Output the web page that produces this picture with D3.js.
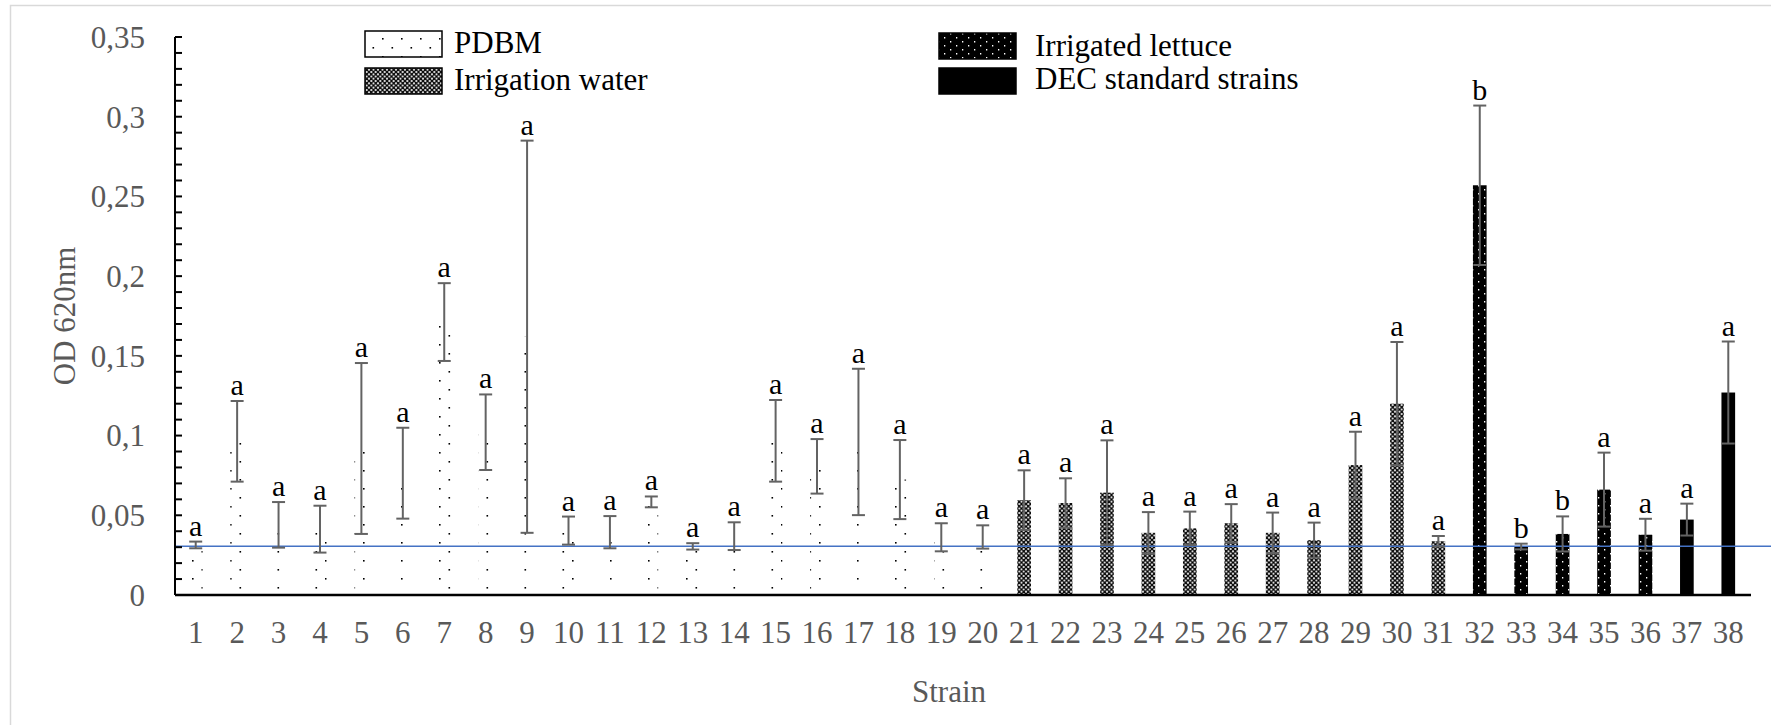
<!DOCTYPE html>
<html><head><meta charset="utf-8">
<script src="https://cdn.jsdelivr.net/npm/d3@7/dist/d3.min.js"></script>
<style>body{margin:0;background:#fff}svg{display:block}text{font-family:"Liberation Serif","Times New Roman",serif}</style>
</head><body>
<script>
// ---- data ----
const strains = d3.range(1, 39).map(String);
const groups = ["PDBM","PDBM","PDBM","PDBM","PDBM","PDBM","PDBM","PDBM","PDBM","PDBM",
  "PDBM","PDBM","PDBM","PDBM","PDBM","PDBM","PDBM","PDBM","PDBM","PDBM",
  "Irrigation water","Irrigation water","Irrigation water","Irrigation water","Irrigation water","Irrigation water",
  "Irrigation water","Irrigation water","Irrigation water","Irrigation water","Irrigation water",
  "Irrigated lettuce","Irrigated lettuce","Irrigated lettuce","Irrigated lettuce","Irrigated lettuce",
  "DEC standard strains","DEC standard strains"];
const means = [0.0314,0.0964,0.0440,0.0413,0.0919,0.0764,0.1712,0.1021,0.1620,0.0404,
  0.0394,0.0584,0.0305,0.0369,0.0967,0.0807,0.0960,0.0724,0.0362,0.0364,
  0.0595,0.0577,0.0642,0.0390,0.0418,0.0450,0.0390,0.0344,0.0815,0.1200,0.0337,
  0.2570,0.0304,0.0383,0.0661,0.0378,0.0473,0.1270];
const sds = [0.0021,0.0253,0.0143,0.0147,0.0536,0.0285,0.0244,0.0237,0.1230,0.0088,
  0.0101,0.0034,0.0020,0.0087,0.0256,0.0171,0.0459,0.0248,0.0088,0.0073,
  0.0187,0.0155,0.0328,0.0130,0.0105,0.0120,0.0127,0.0110,0.0209,0.0387,0.0033,
  0.0500,0.0018,0.0110,0.0232,0.0100,0.0100,0.0320];
const letters = ["a","a","a","a","a","a","a","a","a","a","a","a","a","a","a","a","a","a","a","a",
  "a","a","a","a","a","a","a","a","a","a","a","b","b","b","a","a","a","a"];
const legendItems = ["PDBM","Irrigation water","Irrigated lettuce","DEC standard strains"];
const yTicks = [0,0.05,0.1,0.15,0.2,0.25,0.3,0.35];
const yTickLabels = ["0","0,05","0,1","0,15","0,2","0,25","0,3","0,35"];
const threshold = 0.0305;

const W = 1771, H = 725;
const FONT = '"Liberation Serif","Times New Roman",serif';
const svg = d3.select("body").append("svg").attr("width", W).attr("height", H);
const defs = svg.append("defs");

// patterns
const pd = defs.append("pattern").attr("id","pPDBM").attr("patternUnits","userSpaceOnUse")
  .attr("width",19).attr("height",18);
pd.append("rect").attr("width",19).attr("height",18).attr("fill","#fff");
pd.append("rect").attr("x",2).attr("y",2).attr("width",1.6).attr("height",1.6).attr("fill","#000");
pd.append("rect").attr("x",11.5).attr("y",11).attr("width",1.6).attr("height",1.6).attr("fill","#000");

const pw = defs.append("pattern").attr("id","pWater").attr("patternUnits","userSpaceOnUse")
  .attr("width",4.5).attr("height",4.5);
pw.append("rect").attr("width",4.5).attr("height",4.5).attr("fill","#fff");
pw.append("path").attr("d","M0,0L4.5,4.5M4.5,0L0,4.5").attr("stroke","#000").attr("stroke-width",1.3);
pw.append("circle").attr("cx",2.25).attr("cy",2.25).attr("r",0.9).attr("fill","#000");

const pl = defs.append("pattern").attr("id","pLettuce").attr("patternUnits","userSpaceOnUse")
  .attr("width",12).attr("height",8);
pl.append("rect").attr("width",12).attr("height",8).attr("fill","#000");
pl.append("rect").attr("x",2).attr("y",1).attr("width",1.3).attr("height",1.5).attr("fill","#fff");
pl.append("rect").attr("x",8).attr("y",5).attr("width",1.3).attr("height",1.5).attr("fill","#fff");

const fillOf = {"PDBM":"url(#pPDBM)","Irrigation water":"url(#pWater)","Irrigated lettuce":"url(#pLettuce)","DEC standard strains":"#000"};

// frame
svg.append("rect").attr("x",10.5).attr("y",5.5).attr("width",W).attr("height",H)
  .attr("fill","none").attr("stroke","#d9d9d9").attr("stroke-width",1.5);

const x0 = 175, x1 = 1749, yBottom = 595, yTop = 37;
const x = d3.scaleBand().domain(strains).range([x0, x1]).paddingInner(0.67).paddingOuter(0.335);
const y = d3.scaleLinear().domain([0, 0.35]).range([yBottom, yTop]);

const data = strains.map((s,i)=>({s, g:groups[i], m:means[i], sd:sds[i], l:letters[i]}));

// bars
svg.append("g").selectAll("rect").data(data).join("rect")
  .attr("x", d=>x(d.s)).attr("width", x.bandwidth())
  .attr("y", d=>y(d.m)).attr("height", d=>y(0)-y(d.m))
  .attr("fill", d=>fillOf[d.g]);

// threshold line
svg.append("line").attr("x1",x0).attr("x2",W).attr("y1",y(threshold)).attr("y2",y(threshold))
  .attr("stroke","#4472C4").attr("stroke-width",1.5);

// error bars
const eb = svg.append("g").attr("stroke","#636363").attr("stroke-width",2).attr("fill","none");
data.forEach(d=>{
  const cx = x(d.s) + x.bandwidth()/2;
  const yt = y(d.m + d.sd), yb = y(d.m - d.sd);
  eb.append("line").attr("x1",cx).attr("x2",cx).attr("y1",yt).attr("y2",yb);
  eb.append("line").attr("x1",cx-6.5).attr("x2",cx+6.5).attr("y1",yt).attr("y2",yt);
  eb.append("line").attr("x1",cx-6.5).attr("x2",cx+6.5).attr("y1",yb).attr("y2",yb);
});

// letters
svg.append("g").selectAll("text").data(data).join("text")
  .attr("x", d=>x(d.s)+x.bandwidth()/2).attr("y", d=>y(d.m+d.sd)-6)
  .attr("text-anchor","middle").style("font-family",FONT).style("font-size","30px")
  .attr("fill","#000").text(d=>d.l);

// y axis
const yAxis = svg.append("g").attr("transform",`translate(${x0},0)`);
yAxis.append("line").attr("x1",0).attr("x2",0).attr("y1",yTop).attr("y2",yBottom)
  .attr("stroke","#000").attr("stroke-width",2);
const minor = d3.range(0, 36).map(i=>i/100);
yAxis.selectAll("line.t").data(minor).join("line").attr("class","t")
  .attr("x1",0).attr("x2",7).attr("y1",d=>y(d)).attr("y2",d=>y(d))
  .attr("stroke","#000").attr("stroke-width",2);
yAxis.selectAll("text").data(yTicks).join("text")
  .attr("x",-30).attr("y",d=>y(d)).attr("dy","0.35em").attr("text-anchor","end")
  .style("font-family",FONT).style("font-size","31px").attr("fill","#595959")
  .text((d,i)=>yTickLabels[i]);

// x axis
svg.append("line").attr("x1",x0).attr("x2",x1+2).attr("y1",yBottom).attr("y2",yBottom)
  .attr("stroke","#000").attr("stroke-width",2.5);
svg.append("g").selectAll("text").data(strains).join("text")
  .attr("x", d=>x(d)+x.bandwidth()/2).attr("y", 643).attr("text-anchor","middle")
  .style("font-family",FONT).style("font-size","31px").attr("fill","#595959").text(d=>d);

// axis titles
svg.append("text").attr("x",949).attr("y",702).attr("text-anchor","middle")
  .style("font-family",FONT).style("font-size","31px").attr("fill","#595959").text("Strain");
svg.append("text").attr("transform","translate(75,316) rotate(-90)").attr("text-anchor","middle")
  .style("font-family",FONT).style("font-size","31px").attr("fill","#595959").text("OD 620nm");

// legend
const legPos = [[365,31,454,53],[365,68,454,90],[939,33,1035,56],[939,68,1035,89]];
legendItems.forEach((name,i)=>{
  const [bx,by,tx,ty] = legPos[i];
  svg.append("rect").attr("x",bx).attr("y",by).attr("width",77).attr("height",26)
    .attr("fill",fillOf[name]).attr("stroke","#000").attr("stroke-width",1.5);
  svg.append("text").attr("x",tx).attr("y",ty).style("font-family",FONT)
    .style("font-size","31px").attr("fill","#000").text(name);
});
</script>
</body></html>
